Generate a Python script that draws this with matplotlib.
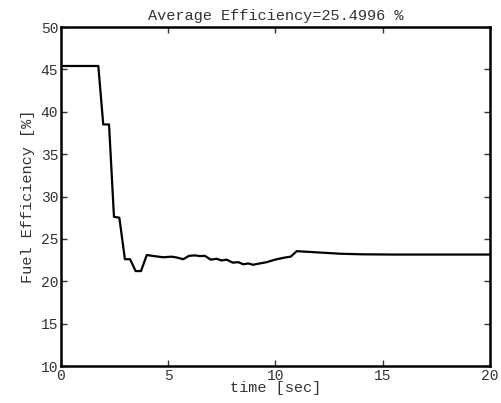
import matplotlib
matplotlib.use("Agg")
import matplotlib.pyplot as plt

# fuel efficiency trace, sampled at the corners of the curve
time_s = [0.0, 1.74, 1.97, 2.24, 2.47, 2.72, 2.98, 3.22, 3.48, 3.73, 4.0,
          4.30, 4.77, 5.16, 5.40, 5.70, 5.97, 6.25, 6.48, 6.71, 6.98, 7.26,
          7.49, 7.72, 8.01, 8.27, 8.50, 8.73, 8.96, 9.27, 9.59, 9.98, 10.44,
          10.71, 10.99, 13.0, 14.0, 15.5, 20.0]
efficiency = [45.4, 45.4, 38.5, 38.5, 27.6, 27.5, 22.6, 22.6, 21.2, 21.2, 23.1,
              22.98, 22.83, 22.9, 22.8, 22.6, 23.0, 23.05, 22.97, 23.0, 22.55, 22.65,
              22.45, 22.55, 22.2, 22.25, 22.0, 22.1, 21.95, 22.1, 22.25, 22.55, 22.8,
              22.9, 23.55, 23.25, 23.18, 23.15, 23.15]
avg_eff = 25.4996

plt.rcParams['font.family'] = ['Liberation Mono', 'DejaVu Sans Mono']
plt.rcParams['font.size'] = 10.5

fig = plt.figure(figsize=(5.02, 4.03), dpi=100)
ax = fig.add_axes([0.1215, 0.0918, 0.8545, 0.8412])
ax.plot(time_s, efficiency, color='black', linewidth=1.6)

ax.set_xlim(0, 20)
ax.set_ylim(10, 50)
ax.set_xticks([0, 5, 10, 15, 20])
ax.set_yticks([10, 15, 20, 25, 30, 35, 40, 45, 50])
ax.tick_params(direction='in', top=True, right=True, length=4, width=1,
               colors='#333333', labelcolor='#333333', pad=2)
for s in ax.spines.values():
    s.set_linewidth(1.8)
    s.set_color('black')

ax.set_title(f"Average Efficiency={avg_eff} %", fontsize=11, color='#333333', pad=5)
ax.set_xlabel("time [sec]", fontsize=11, color='#333333', labelpad=-1)
ax.set_ylabel("Fuel Efficiency [%]", fontsize=11, color='#333333', labelpad=4)

fig.savefig("out.png", dpi=100)
